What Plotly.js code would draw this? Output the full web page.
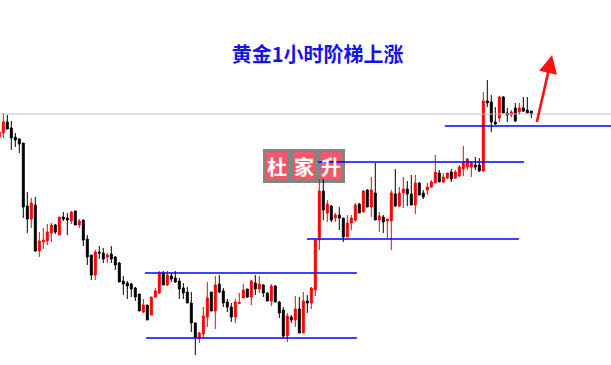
<!DOCTYPE html>
<html>
<head>
<meta charset="utf-8">
<script src="https://cdn.plot.ly/plotly-3.0.1.min.js"></script>
<style>
  html, body { margin: 0; padding: 0; background: #ffffff; }
  #chart { width: 611px; height: 365px; }
</style>
</head>
<body>
<div id="chart"></div>
<script>
// Gold, 1-hour bars (oldest first)
const open = [
  1276.3, 1276.7, 1277.8, 1277.2, 1276.3, 1276.1, 1275.7, 1269.4, 1268.1, 1269.5,
  1264.9, 1265.8, 1265.9, 1266.7, 1267.5, 1266.5, 1268.3, 1268.2, 1267.9, 1268.9,
  1267.5, 1268.0, 1266.1, 1264.5, 1262.5, 1264.8, 1264.7, 1264.3, 1264.6, 1264.3,
  1263.7, 1261.9, 1261.7, 1261.6, 1261.2, 1260.6, 1258.8, 1259.5, 1258.5, 1260.3,
  1260.7, 1262.7, 1261.5, 1262.4, 1262.2, 1261.9, 1261.2, 1260.8, 1259.7, 1257.7,
  1256.2, 1256.6, 1258.3, 1260.8, 1258.9, 1261.6, 1260.9, 1259.8, 1259.3, 1258.3,
  1259.65, 1260.2, 1261.1, 1260.3, 1261.7, 1261.1, 1261.5, 1260.7, 1259.9, 1261.4,
  1259.8, 1259.0, 1256.4, 1258.3, 1258.0, 1259.1, 1256.7, 1259.9, 1259.7, 1261.0,
  1266.0, 1270.9, 1268.7, 1269.4, 1268.2, 1268.5, 1268.2, 1266.3, 1267.7, 1268.0,
  1269.6, 1268.8, 1271.0, 1269.3, 1270.7, 1268.0, 1268.3, 1267.9, 1267.9, 1270.6,
  1269.4, 1270.7, 1271.1, 1270.6, 1269.5, 1271.7, 1270.7, 1271.0, 1271.3, 1271.7,
  1272.7, 1271.8, 1272.2, 1272.8, 1272.2, 1272.4, 1273.1, 1273.3, 1273.3, 1273.5,
  1273.5, 1272.9, 1279.9, 1279.8, 1277.8, 1278.2, 1280.3, 1278.7, 1278.5, 1279.2,
  1278.8, 1279.2, 1279.0, 1278.9
];
const high = [
  1277.0, 1278.7, 1278.5, 1277.9, 1276.7, 1276.2, 1275.7, 1270.8, 1270.2, 1270.3,
  1266.8, 1267.2, 1267.6, 1267.7, 1267.6, 1268.3, 1268.8, 1268.7, 1268.9, 1268.9,
  1268.1, 1268.0, 1266.5, 1264.5, 1265.0, 1265.4, 1265.2, 1264.7, 1265.4, 1264.4,
  1263.8, 1262.4, 1261.9, 1261.7, 1261.3, 1260.6, 1260.1, 1259.5, 1260.3, 1261.2,
  1262.9, 1262.9, 1262.9, 1262.7, 1262.9, 1262.2, 1261.7, 1261.3, 1260.8, 1257.8,
  1256.8, 1259.3, 1261.8, 1260.8, 1262.4, 1262.5, 1261.2, 1260.1, 1259.7, 1260.1,
  1260.7, 1261.6, 1261.1, 1262.0, 1262.5, 1262.4, 1261.6, 1260.8, 1261.6, 1261.5,
  1259.9, 1259.3, 1258.7, 1258.5, 1260.4, 1260.3, 1260.8, 1260.5, 1261.3, 1266.0,
  1272.1, 1272.1, 1270.0, 1269.5, 1268.7, 1269.3, 1268.2, 1268.5, 1268.5, 1269.7,
  1269.7, 1271.0, 1271.1, 1272.3, 1273.7, 1268.8, 1268.5, 1268.1, 1271.0, 1273.1,
  1271.3, 1272.3, 1271.9, 1272.5, 1272.5, 1271.8, 1271.0, 1271.7, 1272.0, 1274.5,
  1273.0, 1272.7, 1272.7, 1273.1, 1273.0, 1273.5, 1275.4, 1274.2, 1273.9, 1274.3,
  1274.2, 1280.8, 1282.0, 1280.5, 1279.3, 1280.4, 1280.4, 1279.2, 1279.0, 1279.7,
  1279.7, 1280.3, 1280.3, 1278.9
];
const low = [
  1276.2, 1276.2, 1277.1, 1275.0, 1275.3, 1274.7, 1268.2, 1266.7, 1267.2, 1264.8,
  1264.3, 1265.1, 1265.5, 1265.8, 1266.6, 1266.5, 1267.9, 1266.5, 1267.6, 1267.5,
  1267.2, 1265.4, 1263.5, 1262.0, 1262.0, 1264.1, 1263.7, 1263.7, 1263.7, 1263.0,
  1261.8, 1260.5, 1260.1, 1260.3, 1259.9, 1258.9, 1258.7, 1258.0, 1258.5, 1260.2,
  1260.6, 1261.5, 1261.4, 1261.8, 1261.7, 1260.1, 1260.1, 1259.7, 1256.8, 1254.5,
  1255.7, 1256.2, 1257.3, 1258.9, 1257.1, 1260.7, 1259.3, 1258.8, 1257.8, 1257.7,
  1259.6, 1260.2, 1260.2, 1259.5, 1260.5, 1260.7, 1260.3, 1259.9, 1259.4, 1259.8,
  1258.2, 1256.2, 1255.8, 1257.7, 1257.3, 1256.7, 1256.7, 1258.7, 1259.1, 1260.4,
  1265.0, 1268.0, 1267.8, 1267.8, 1267.8, 1267.0, 1265.8, 1266.3, 1267.0, 1267.8,
  1268.7, 1268.8, 1269.3, 1268.3, 1268.0, 1266.8, 1266.7, 1266.2, 1265.0, 1269.3,
  1269.3, 1269.2, 1269.4, 1269.5, 1268.6, 1270.5, 1270.1, 1270.5, 1271.2, 1271.7,
  1271.8, 1271.7, 1272.1, 1271.8, 1272.1, 1272.3, 1272.4, 1273.0, 1272.3, 1273.0,
  1272.8, 1272.8, 1279.3, 1276.8, 1277.5, 1277.8, 1278.7, 1277.8, 1278.3, 1277.8,
  1278.5, 1278.8, 1278.7, 1278.2
];
const close = [
  1276.8, 1277.8, 1277.1, 1276.2, 1276.0, 1275.6, 1269.3, 1268.1, 1269.7, 1264.9,
  1265.9, 1266.0, 1266.8, 1267.5, 1266.8, 1268.3, 1268.1, 1268.0, 1268.8, 1267.5,
  1267.9, 1266.0, 1264.3, 1262.5, 1264.8, 1264.7, 1264.1, 1264.5, 1264.1, 1263.5,
  1261.8, 1261.6, 1261.4, 1261.1, 1260.3, 1258.9, 1259.5, 1258.0, 1260.3, 1260.9,
  1262.7, 1261.5, 1262.5, 1262.1, 1261.8, 1261.1, 1260.7, 1259.7, 1257.7, 1256.3,
  1256.7, 1258.4, 1260.2, 1258.9, 1261.5, 1260.8, 1259.7, 1259.3, 1258.3, 1259.8,
  1259.75, 1261.0, 1260.3, 1261.9, 1261.1, 1261.6, 1260.7, 1259.9, 1261.4, 1259.8,
  1258.7, 1256.4, 1258.4, 1258.0, 1259.1, 1256.7, 1259.9, 1259.7, 1261.2, 1266.0,
  1270.9, 1269.0, 1269.6, 1268.0, 1268.5, 1268.2, 1266.3, 1267.7, 1268.2, 1269.5,
  1268.7, 1270.9, 1269.3, 1271.0, 1268.0, 1268.4, 1267.8, 1268.1, 1270.7, 1269.4,
  1270.7, 1271.1, 1270.6, 1269.5, 1271.7, 1270.5, 1270.3, 1271.3, 1271.8, 1272.8,
  1271.8, 1272.3, 1272.7, 1272.1, 1272.8, 1273.3, 1273.7, 1274.1, 1273.7, 1273.3,
  1272.9, 1279.9, 1279.7, 1277.8, 1277.6, 1280.3, 1278.7, 1278.5, 1278.8, 1277.9,
  1279.2, 1278.9, 1278.7, 1278.6
];

// Support / resistance steps: price level and the bar span each one covers
const levelPrice = [1262.7, 1256.2, 1266.1, 1273.8, 1277.4];
const levelFrom  = [35.4, 35.7, 75.9, 78.7, 110.4];
const levelTo    = [88.4, 88.4, 128.9, 130.2, 153];

const titleText = '黄金1小时阶梯上涨';
const stampChars = ['杜', '家', '升'];

// bar positions (the first bar sits just off the left edge)
const barIndex = open.map((_, i) => i - 1);
const xRange = [-0.825, 151.925];
const yRange = [1253.5, 1290];

const traces = [];

// step lines
for (let i = 0; i < levelPrice.length; i++) {
  traces.push({
    type: 'scatter', mode: 'lines',
    x: [levelFrom[i], levelTo[i]],
    y: [levelPrice[i], levelPrice[i]],
    line: { color: '#0000ff', width: 1.6 },
    hoverinfo: 'skip', showlegend: false
  });
}

// last price line across the whole chart
const lastPrice = close[close.length - 1];
traces.push({
  type: 'scatter', mode: 'lines',
  x: [xRange[0], xRange[1]],
  y: [lastPrice, lastPrice],
  line: { color: '#c4c4c4', width: 1.2 },
  hoverinfo: 'skip', showlegend: false
});

traces.push({
  type: 'candlestick',
  x: barIndex, open: open, high: high, low: low, close: close,
  increasing: { line: { color: '#ff0000', width: 1 }, fillcolor: '#ff0000' },
  decreasing: { line: { color: '#000000', width: 1 }, fillcolor: '#000000' },
  whiskerwidth: 0,
  hoverinfo: 'skip', showlegend: false
});

// stamp boxes (paper coordinates)
const stampLeft = 263 / 611, stampRight = 345 / 611;
const stampTop = 1 - 149 / 365, stampBottom = 1 - 183 / 365;
const shapes = [{
  type: 'rect', xref: 'paper', yref: 'paper', layer: 'below',
  x0: stampLeft, x1: stampRight, y0: stampBottom, y1: stampTop,
  fillcolor: 'rgba(110,110,110,0.85)', line: { width: 0 }
}];
const annotations = [];
const cellW = (stampRight - stampLeft) / 3;
const padX = 3 / 611, padY = 3 / 365;
stampChars.forEach((ch, i) => {
  const x0 = stampLeft + i * cellW + padX;
  const x1 = stampLeft + (i + 1) * cellW - padX;
  shapes.push({
    type: 'rect', xref: 'paper', yref: 'paper', layer: 'below',
    x0: x0, x1: x1, y0: stampBottom + padY, y1: stampTop - padY,
    fillcolor: '#f4566a', line: { width: 0 }
  });
  annotations.push({
    xref: 'paper', yref: 'paper', x: (x0 + x1) / 2, y: (stampTop + stampBottom) / 2,
    text: ch, showarrow: false, xanchor: 'center', yanchor: 'middle',
    font: { family: 'Noto Sans CJK SC', size: 20, color: '#ffffff', weight: 'bold' }
  });
});

// upward arrow
annotations.push({
  xref: 'x', yref: 'y', axref: 'x', ayref: 'y',
  x: 137.2, y: 1284.5, ax: 133.3, ay: 1277.65,
  text: '', showarrow: true, arrowhead: 2, arrowsize: 1.4,
  arrowwidth: 2.6, arrowcolor: '#ff1010'
});

const layout = {
  width: 611, height: 365,
  margin: { l: 0, r: 0, t: 0, b: 0 },
  paper_bgcolor: '#ffffff', plot_bgcolor: '#ffffff',
  showlegend: false,
  title: {
    text: titleText, x: 0.52, xanchor: 'center', y: 0.849, yanchor: 'middle',
    xref: 'container', yref: 'container',
    font: { family: 'Noto Sans CJK SC', size: 20, color: '#1414e6', weight: 'bold' }
  },
  xaxis: { range: xRange, visible: false, fixedrange: true, rangeslider: { visible: false } },
  yaxis: { range: yRange, visible: false, fixedrange: true },
  shapes: shapes,
  annotations: annotations,
  hovermode: false
};

Plotly.newPlot('chart', traces, layout, { staticPlot: true, displayModeBar: false });
</script>
</body>
</html>
